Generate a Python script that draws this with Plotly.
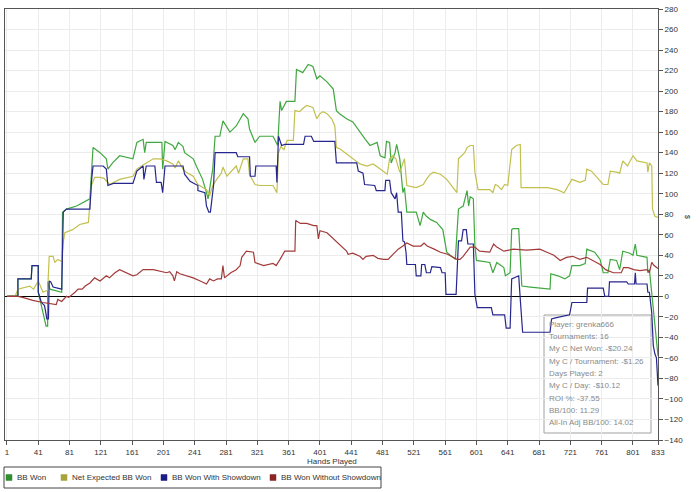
import plotly.graph_objects as go

# ---------------- data (hand number, value) ----------------
series_names = ["BB Won", "Net Expected BB Won", "BB Won With Showdown", "BB Won Without Showdown"]
series_colors = ["#3fa83f", "#c2c04e", "#26268f", "#a33a3a"]
legend_colors = ["#2f8f2f", "#a6a33a", "#1c1c86", "#8c2424"]

bb_won_x = [1,12,15,15,32,33,41,41,45,51,53,53,56,71,72,77,90,107,111,120,128,130,136,145,162,167,175,177,179,199,200,203,213,216,220,226,228,239,243,251,256,258,264,267,273,277,286,294,303,309,311,318,324,341,347,350,352,358,369,371,379,386,392,397,401,410,418,422,426,435,443,452,459,465,474,478,484,486,490,492,497,499,503,507,509,512,524,529,533,537,542,550,558,563,574,578,584,589,591,593,597,599,601,618,622,627,636,638,644,646,648,655,657,659,670,687,695,696,705,714,720,723,733,740,742,752,759,763,769,772,780,784,788,797,801,804,806,819,820,822,825,829,831,833]
bb_won_y = [0,1,1,17,17,30,30,4,-9,-29,-29,14,7,4,82,85,88,95,145,140,134,124,130,137,134,150,153,140,150,150,124,151,147,143,150,146,140,134,127,114,101,95,124,156,156,171,160,166,178,173,163,150,156,156,147,190,181,190,190,221,218,226,224,212,215,209,202,181,178,173,170,160,153,147,150,137,135,151,150,130,140,148,134,101,106,82,82,69,82,78,75,72,65,43,36,85,88,103,88,97,95,49,35,33,23,33,28,20,23,65,66,66,36,10,9,8,7,22,20,17,20,30,30,32,46,43,36,23,23,36,35,26,44,42,40,51,40,38,23,26,4,-29,-45,-58]

net_exp_x = [1,12,15,20,30,35,41,47,53,55,60,62,66,71,73,75,85,94,105,109,113,120,125,132,137,145,162,167,175,188,197,205,213,216,220,226,230,239,245,256,260,264,269,275,277,282,294,297,303,309,311,318,324,341,346,348,351,355,359,367,369,375,379,384,392,397,401,405,410,416,420,422,426,435,443,452,461,469,478,487,490,494,498,503,509,512,524,533,537,542,546,555,563,571,576,578,586,589,593,597,599,603,618,622,625,628,633,637,641,646,652,657,658,670,692,704,713,723,733,740,742,748,755,763,769,772,780,784,788,794,801,806,819,820,822,825,826,829,833]
net_exp_y = [0,1,7,8,10,7,15,4,6,39,39,33,36,34,53,62,65,70,72,108,116,116,115,109,111,114,117,124,128,134,134,132,129,125,132,124,121,117,109,104,98,108,114,120,126,117,127,120,134,134,119,109,108,108,101,140,146,143,152,152,181,180,183,186,184,173,178,180,178,173,166,145,144,139,134,129,127,129,124,119,134,137,134,121,134,108,106,109,114,119,121,119,114,106,101,134,140,145,147,147,121,104,104,101,109,108,104,109,108,143,147,148,106,106,106,104,101,114,111,113,124,122,116,109,109,122,121,120,132,127,137,132,130,121,130,127,85,78,77]

bb_sd_x = [1,15,15,32,33,41,41,45,49,52,54,55,57,60,71,73,77,107,109,111,124,128,130,137,162,167,175,176,179,190,192,198,200,203,226,228,235,245,245,254,256,259,261,263,265,267,294,296,311,312,318,319,345,346,348,352,356,380,382,390,393,420,422,448,450,456,458,471,473,484,485,490,492,497,499,501,505,507,509,511,512,523,524,530,531,535,537,542,544,555,557,561,562,575,578,582,584,588,590,597,599,602,620,622,637,639,644,646,655,657,660,695,697,702,720,723,742,743,763,765,770,771,793,795,803,804,805,819,820,822,825,827,829,831,833]
bb_sd_y = [0,0,17,17,30,30,4,-6,-9,-22,-22,15,14,9,7,82,85,85,112,127,127,124,108,110,110,122,127,114,127,127,111,111,101,127,127,119,112,108,103,101,88,82,82,95,108,140,140,136,136,117,117,127,127,111,156,147,148,148,156,156,151,151,130,130,122,120,109,108,103,103,113,113,101,95,101,82,82,54,53,43,31,31,20,20,31,31,23,23,29,28,23,23,2,2,54,54,65,65,51,51,2,-11,-11,-18,-18,-31,-31,17,20,-3,-35,-35,-22,-21,-18,-6,-6,8,8,0,0,14,14,12,12,23,12,12,4,4,-16,-48,-56,-60,-87]

bb_nosd_x = [1,15,21,34,47,60,64,66,71,77,80,88,92,97,101,107,113,120,128,132,139,145,153,162,167,175,188,194,205,209,213,215,218,222,231,239,248,256,260,265,270,275,277,279,287,294,299,301,307,316,318,329,341,345,350,356,369,370,376,384,393,397,399,401,410,418,426,435,437,443,452,456,460,469,475,482,488,495,501,507,512,520,530,534,538,547,555,564,572,576,580,584,593,599,605,618,623,627,636,648,665,682,691,700,708,716,724,733,742,750,759,766,776,786,789,795,802,810,819,822,825,828,833]
bb_nosd_y = [0,0,-1,-4,-6,-8,-8,-3,-5,0,-1,4,7,7,10,13,18,15,20,18,23,26,23,20,21,26,26,25,23,24,20,15,24,22,20,18,15,12,17,15,17,17,30,18,23,26,30,38,44,43,33,30,32,30,36,44,44,74,71,71,69,69,56,64,62,56,51,44,41,42,39,36,39,40,37,36,36,41,46,49,52,49,49,52,49,46,43,41,38,36,36,39,48,48,44,43,51,48,44,46,45,46,43,40,35,38,39,36,38,35,31,26,23,23,28,28,26,25,26,23,33,30,27]

x_tick_vals = [1, 41, 81, 121, 161, 201, 241, 281, 321, 361, 401, 441, 481, 521, 561, 601, 641, 681, 721, 761, 801, 833]
x_title = "Hands Played"
info_lines = ["Player: grenka666", "Tournaments: 16", "My C Net Won: -$20.24",
              "My C / Tournament: -$1.26", "Days Played: 2", "My C / Day: -$10.12",
              "ROI %: -37.55", "BB/100: 11.29", "All-In Adj BB/100: 14.02"]

# ---------------- layout geometry (pixels) ----------------
W, H = 700, 492
PL, PR, PT, PB = 5, 658, 9, 440


def px(x):
    return (x - PL) / (PR - PL)


def py(y):
    return (PB - y) / (PB - PT)


FONT = "Liberation Sans, Arial, sans-serif"

fig = go.Figure()
xs = [bb_won_x, net_exp_x, bb_sd_x, bb_nosd_x]
ys = [bb_won_y, net_exp_y, bb_sd_y, bb_nosd_y]
for name, col, xv, yv in zip(series_names, series_colors, xs, ys):
    fig.add_trace(go.Scatter(x=xv, y=yv, mode="lines", name=name,
                             line=dict(color=col, width=1.2), showlegend=False))

fig.update_layout(
    width=W, height=H,
    margin=dict(l=PL, r=W - PR, t=PT, b=H - PB, pad=0),
    paper_bgcolor="white", plot_bgcolor="white",
    font=dict(family=FONT, size=8, color="#333333"),
    showlegend=False,
    xaxis=dict(range=[-1.5, 833], tickmode="array", tickvals=x_tick_vals,
               ticks="outside", ticklen=4, tickcolor="#555555",
               showgrid=True, gridcolor="#ececec", gridwidth=1,
               showline=True, linecolor="#555555", linewidth=1, mirror=True,
               zeroline=False, tickfont=dict(size=8, color="#333333")),
    yaxis=dict(range=[-140, 280], dtick=20, side="right",
               ticks="outside", ticklen=4, tickcolor="#555555",
               showgrid=True, gridcolor="#ececec", gridwidth=1,
               showline=True, linecolor="#555555", linewidth=1, mirror=True,
               zeroline=True, zerolinecolor="#000000", zerolinewidth=1,
               tickfont=dict(size=8, color="#333333")),
)

shapes = []
annotations = []

# x-axis title
annotations.append(dict(text=x_title, x=px(332), y=py(461), xref="paper", yref="paper",
                        showarrow=False, xanchor="center", yanchor="middle",
                        font=dict(size=8, color="#333333")))
# right axis unit label
annotations.append(dict(text="$", x=px(688), y=py(217), xref="paper", yref="paper",
                        showarrow=False, textangle=90, xanchor="center", yanchor="middle",
                        font=dict(size=7, color="#333333")))

# legend box drawn manually
shapes.append(dict(type="rect", xref="paper", yref="paper",
                   x0=px(4), x1=px(381), y0=py(467), y1=py(488),
                   line=dict(color="#444444", width=1), fillcolor="white"))
sq_x = [9, 64, 164, 273]
for name, col, sx in zip(series_names, legend_colors, sq_x):
    shapes.append(dict(type="rect", xref="paper", yref="paper",
                       x0=px(sx - 3), x1=px(sx + 3), y0=py(480.5), y1=py(474.5),
                       line=dict(color=col, width=0.5), fillcolor=col))
    annotations.append(dict(text=name, x=px(sx + 6), y=py(477.5), xref="paper", yref="paper",
                            showarrow=False, xanchor="left", yanchor="middle",
                            font=dict(size=8, color="#333333")))

# info box
shapes.append(dict(type="rect", xref="paper", yref="paper", layer="below",
                   x0=px(544), x1=px(651), y0=py(433), y1=py(315),
                   line=dict(color="#a0a0a0", width=1), fillcolor="rgba(255,255,255,0.6)"))
info_y = [324, 336, 348, 361, 373, 385, 398, 410, 422]
for t, yy in zip(info_lines, info_y):
    annotations.append(dict(text=t, x=px(547), y=py(yy), xref="paper", yref="paper",
                            showarrow=False, xanchor="left", yanchor="middle",
                            font=dict(size=8, color="#8a8a8a")))

fig.update_layout(shapes=shapes, annotations=annotations)
fig.write_html("out.html")
